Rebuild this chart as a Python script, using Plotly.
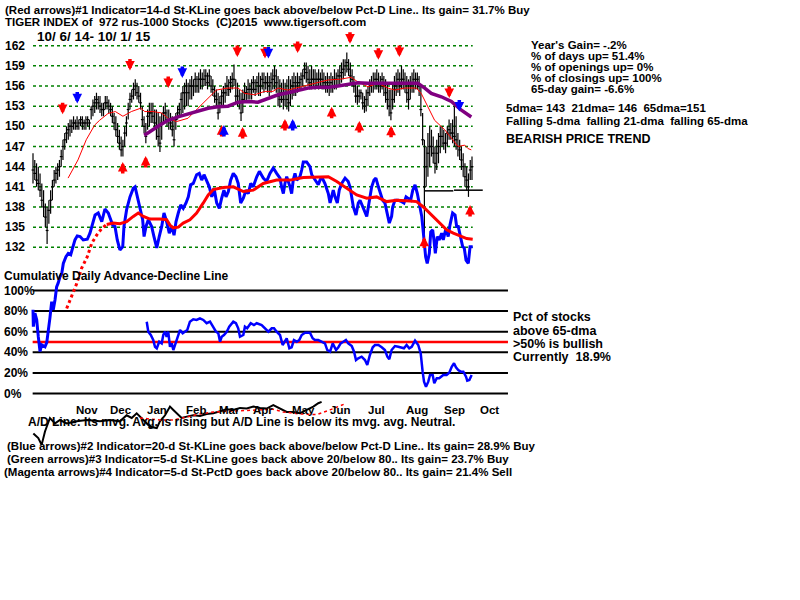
import plotly.graph_objects as go

# ---------------- data (trading-day index 0 = 10/6/14 ... 249 = 10/1/15) ----------------
highs = [
    146.0,145.0,144.5,144.0,143.0,141.5,140.5,138.5,138.0,139.0,
    140.5,142.0,143.5,144.0,144.5,145.0,146.5,148.0,149.0,150.0,
    150.5,151.0,151.0,151.5,151.0,151.5,151.0,151.5,151.5,151.0,
    151.5,151.5,151.0,153.0,154.0,154.5,155.0,154.5,154.5,153.5,
    153.5,154.5,154.5,154.0,153.5,153.0,152.0,151.5,150.5,149.5,
    148.5,148.0,150.0,151.5,153.5,155.0,155.5,156.5,157.0,156.5,
    156.0,155.0,153.0,151.5,150.5,152.5,153.5,153.5,153.5,152.5,
    152.5,152.0,151.5,152.0,153.0,153.5,152.5,152.5,152.0,151.5,
    151.0,152.0,153.0,153.5,155.0,156.0,156.5,157.0,156.5,157.0,
    157.5,157.0,158.0,157.5,158.0,158.5,158.0,158.5,158.5,158.0,
    158.5,157.5,157.0,156.0,155.5,155.0,154.5,155.5,156.0,156.5,
    157.5,157.0,157.5,158.0,159.2,157.0,156.5,155.5,155.0,155.5,
    156.5,156.0,157.0,156.5,157.0,157.5,157.0,157.5,158.0,157.5,
    158.0,158.0,157.5,158.0,157.5,158.0,158.5,159.0,158.5,157.5,
    157.0,156.5,157.0,156.5,157.0,157.5,157.0,157.5,158.0,157.5,
    158.0,157.5,158.0,158.5,159.5,159.5,159.0,158.5,159.0,158.5,
    158.5,158.0,158.5,158.0,158.5,158.0,157.5,158.0,157.5,158.0,
    157.5,158.5,158.0,158.5,159.0,159.5,160.0,160.0,161.0,160.0,
    159.5,158.5,157.5,156.5,156.0,155.5,155.5,155.0,154.5,155.5,
    156.0,157.0,157.5,158.0,158.0,158.5,158.0,157.5,158.0,157.5,
    157.0,156.5,155.5,155.5,156.5,157.5,158.0,158.5,158.0,159.0,
    158.5,158.0,157.5,157.0,157.5,158.0,158.5,158.0,158.0,157.5,
    156.0,152.0,148.0,147.0,149.0,150.0,149.5,148.5,147.0,148.0,
    149.0,150.0,150.0,149.5,149.0,150.0,151.0,150.5,151.0,153.0,
    151.5,149.0,148.0,147.0,146.0,144.5,144.0,143.0,145.0,145.5,
]
lows = [
    141.5,142.0,141.0,140.5,139.5,138.0,136.5,135.0,132.5,135.5,
    137.0,139.0,141.0,141.5,142.0,142.5,144.0,145.0,146.5,147.5,
    148.0,148.5,149.0,149.5,149.5,149.5,149.5,150.0,149.5,149.5,
    149.5,150.0,149.5,151.0,151.5,152.0,152.5,152.5,152.0,151.5,
    151.5,152.5,152.5,152.0,151.5,150.5,149.5,148.5,147.5,146.5,
    145.5,145.5,147.0,148.5,151.0,152.5,153.5,154.0,154.5,154.0,
    153.5,152.5,150.0,149.0,147.5,149.5,150.0,150.5,150.5,149.5,
    148.0,147.0,146.2,148.0,150.5,150.5,150.0,149.5,149.5,148.5,
    147.0,149.5,151.0,151.5,151.5,152.0,152.5,153.0,153.0,154.0,
    154.0,154.5,155.0,155.0,155.0,155.5,155.5,156.0,156.0,155.5,
    156.0,155.0,154.5,153.5,153.0,151.0,152.0,153.0,153.0,153.5,
    154.5,154.5,155.0,155.5,156.0,153.5,153.0,152.5,150.8,152.0,
    153.5,153.5,154.0,154.0,154.0,155.0,154.5,155.0,154.5,154.5,
    155.5,155.0,155.5,155.0,154.5,155.0,155.5,155.5,155.0,153.0,
    152.8,153.5,152.5,153.0,152.5,152.2,153.0,154.0,154.5,154.5,
    155.0,155.5,155.5,156.0,157.0,156.5,156.0,155.5,155.5,156.0,
    155.5,156.0,155.5,156.0,155.5,155.5,155.0,155.0,154.5,155.0,
    155.0,155.5,155.5,156.0,156.0,156.5,157.0,157.5,158.0,157.5,
    156.5,156.0,155.0,153.5,153.2,153.5,154.0,152.5,152.0,152.2,
    153.0,154.5,155.0,155.0,155.5,155.5,155.0,155.0,155.5,154.5,
    153.5,152.5,151.5,150.9,152.5,153.5,154.5,155.0,154.5,155.5,
    155.5,155.0,153.5,152.5,154.0,155.0,155.0,155.5,155.5,154.5,
    151.5,147.2,133.0,141.0,142.5,144.0,145.5,144.5,143.0,143.5,
    144.5,146.0,147.0,146.5,146.0,147.0,148.0,148.0,147.5,147.0,
    146.5,145.5,145.0,143.5,142.5,141.0,140.5,139.5,142.0,142.0,
]
closes = [
    143.5,143.0,142.0,141.5,140.5,139.0,138.0,136.5,134.5,137.5,
    139.0,141.0,142.0,143.0,143.5,144.0,145.5,147.0,148.0,149.0,
    149.5,150.0,150.0,150.5,150.5,150.0,150.5,151.0,150.5,150.5,
    150.5,151.0,150.5,152.5,153.0,153.5,154.0,153.5,153.0,152.5,
    152.5,153.5,153.5,153.0,152.5,151.5,150.5,149.5,148.5,147.5,
    146.5,147.0,149.0,150.5,152.5,154.0,154.5,155.5,156.0,155.0,
    154.5,153.5,151.0,150.0,148.5,151.5,152.0,152.0,151.5,150.5,
    150.0,148.5,147.5,150.5,152.0,152.0,151.0,151.0,150.5,149.5,
    148.0,151.0,152.0,152.5,154.0,155.0,155.0,156.0,155.0,156.0,
    156.0,156.0,157.0,156.0,157.0,157.0,157.0,157.0,157.5,156.5,
    157.5,156.0,155.5,154.5,154.0,152.0,153.5,154.5,155.0,155.0,
    156.0,155.5,156.5,157.0,157.0,154.5,154.5,153.5,152.0,154.0,
    155.0,155.0,155.5,155.5,155.5,156.5,155.5,156.5,156.0,156.0,
    157.0,156.5,156.5,156.5,156.0,156.5,157.0,157.5,156.5,154.5,
    154.0,155.0,154.0,155.0,154.0,153.5,155.0,156.0,156.5,156.0,
    156.5,156.5,157.0,157.5,158.5,158.0,157.0,156.5,157.0,157.0,
    157.0,157.0,157.0,157.0,157.0,156.5,156.0,156.5,156.0,156.5,
    156.0,157.0,157.0,157.5,157.5,158.0,158.5,159.0,159.5,158.5,
    157.5,157.0,156.0,154.5,154.5,154.5,155.0,153.5,153.0,154.0,
    155.0,156.0,156.5,156.5,157.0,157.0,156.5,156.0,157.0,156.0,
    155.0,154.0,153.0,152.0,154.0,155.5,156.0,157.0,156.0,157.0,
    157.0,156.5,155.0,154.0,156.0,156.5,157.0,156.5,157.0,156.0,
    152.5,148.0,141.0,144.0,146.0,147.0,147.0,146.0,144.5,146.0,
    147.0,148.5,148.5,147.5,147.5,149.0,149.5,149.0,149.0,148.5,
    148.0,147.0,146.5,145.0,144.0,142.5,142.0,141.0,143.5,144.0,
]

dma21_day = [19.9,25.5,30.2,35.0,37.8,42.5,46.7,51.0,55.8,61.1,63.4,68.1,72.8,76.6,81.3,87.9,93.6,99.3,
             104.0,110.6,116.3,120.1,125.7,131.4,136.1,139.0,144.6,152.2,159.8,167.3,174.0,180.5,184.3,
             190.0,195.7,201.3,205.2,210.8,217.4,220.2,224.0,227.8,233.5,237.3,241.1,244.9,246.7,248.6]
dma21_val = [142.3,145.0,148.0,150.2,150.9,151.9,152.2,151.5,152.2,152.7,152.2,152.2,152.0,151.2,150.7,151.2,
             152.7,154.2,155.4,155.7,155.7,154.9,154.7,155.2,155.2,155.7,155.4,155.9,156.4,156.9,157.0,157.3,
             156.6,155.9,156.4,155.7,155.4,155.7,155.7,154.9,152.9,150.9,149.5,148.2,147.0,147.2,146.7,146.5]

dma65_day = [63.0,65.2,70.9,76.6,82.2,87.9,93.6,99.3,104.9,110.6,116.3,122.0,127.6,133.3,139.0,144.6,150.3,
             156.0,161.7,167.3,173.0,178.7,184.3,190.0,201.3,218.3,222.2,225.9,231.6,237.3,243.0,248.6]
dma65_val = [148.7,149.0,150.0,150.9,151.4,151.8,152.3,152.7,152.9,153.0,153.6,153.7,153.6,154.2,154.7,155.0,
             155.4,155.7,155.8,155.8,156.0,156.3,156.5,156.4,156.4,156.4,155.7,154.9,154.4,153.7,152.4,151.4]

# cumulative A/D line (read against the price grid)
ad_day = [0.0,0.2,1.1,2.1,3.0,4.0,4.9,6.8,7.8,8.7,9.6,10.6,11.5,12.5,13.4,14.3,15.3,16.3,17.2,18.7,20.0,21.4,
          22.5,23.8,25.1,26.7,28.5,30.8,32.3,33.9,35.2,37.0,39.0,40.8,42.7,44.1,45.2,46.5,47.8,49.3,50.9,51.6,
          53.1,55.0,56.9,57.9,59.2,60.7,62.2,63.0,64.1,65.4,67.3,68.6,70.2,71.6,73.0,74.3,75.8,77.3,78.7,80.0,
          81.1,82.4,83.8,85.2,86.8,88.1,89.4,90.9,92.8,94.3,95.7,97.0,98.5,100.0,101.4,102.7,104.2,105.7,107.0,
          108.3,109.5,110.8,112.1,113.6,115.1,116.4,117.8,119.3,120.8,122.1,123.5,124.9,126.9,128.4,130.6,132.5,
          134.4,136.3,138.2,140.1,141.0,142.0,142.9,143.9,145.8,146.7,147.6,148.6,149.6,151.4,152.4,153.3,155.2,
          157.1,158.1,159.9,161.8,162.8,163.7,165.6,167.5,168.5,169.4,170.3,171.3,172.6,173.7,175.1,177.0,178.8,
          179.8,180.8,181.7,183.2,184.5,185.5,187.0,188.3,189.3,190.2,191.1,192.1,193.4,194.5,195.9,197.2,198.3,
          199.6,201.0,202.1,203.4,204.0,205.3,207.2,209.1,210.4,211.6,212.9,214.2,215.4,216.7,218.0,219.1,220.5,
          221.8,222.7,223.6,224.8,225.6,226.7,227.4,228.2,229.3,230.4,231.8,232.7,234.2,235.5,236.5,238.0,239.4,
          240.3,241.2,242.6,243.7,244.6,245.6,246.9,247.9,249.4]
ad_val = [122.7,120.2,122.2,121.2,118.7,116.5,117.5,117.2,117.8,119.4,121.5,123.9,122.7,124.2,126.1,126.7,127.6,
          128.1,129.6,130.6,131.1,130.9,132.1,133.1,133.7,133.6,133.1,133.2,134.1,135.8,136.8,137.1,135.8,137.7,
          137.1,136.1,135.3,135.1,133.1,131.6,132.1,135.1,137.6,139.5,140.8,141.0,139.5,137.6,136.1,133.6,135.1,
          136.1,135.1,133.6,131.9,133.6,135.1,137.1,135.8,134.1,135.1,133.8,135.8,137.1,138.3,137.8,138.6,139.5,
          141.3,141.5,142.8,143.0,142.0,142.8,142.0,141.0,139.5,140.8,138.6,137.8,139.3,140.5,139.5,140.3,142.0,
          143.0,142.5,141.5,138.6,139.3,140.5,140.0,141.5,141.0,142.5,143.3,142.3,141.8,143.0,143.8,143.0,142.3,
          141.0,140.0,141.5,142.5,141.0,140.0,142.0,143.0,142.0,142.5,143.5,144.7,144.7,144.0,142.8,142.0,141.3,
          142.0,142.5,141.5,140.0,138.6,139.5,140.5,139.5,138.6,140.5,141.5,142.3,141.8,141.0,139.5,138.0,136.8,
          138.6,139.0,138.0,137.1,136.6,138.0,139.5,141.0,142.0,142.3,141.0,140.0,139.0,138.6,137.1,135.6,136.6,
          138.0,139.0,139.0,138.8,138.6,139.5,139.3,139.0,140.5,141.3,140.0,138.6,136.6,133.1,130.6,129.6,131.1,
          134.3,134.6,133.1,131.1,133.6,133.1,134.1,133.1,134.8,133.6,135.3,137.1,136.8,135.1,135.1,133.6,132.1,
          131.9,130.1,129.6,132.1,132.1]

# moving average of the A/D line
adma_day = [19.1,21.9,24.8,27.6,30.8,33.3,36.1,39.0,41.8,45.5,49.3,53.1,56.9,59.7,62.6,66.4,72.0,75.8,77.7,79.6,
            82.4,85.2,89.0,92.8,96.6,99.4,102.3,107.9,113.6,116.4,119.3,124.9,130.6,138.2,145.8,153.3,160.9,167.5,
            172.3,177.9,183.6,189.3,194.9,200.6,206.3,213.8,217.6,221.4,226.1,230.8,234.6,238.4,242.2,246.0,249.4]
adma_val = [122.9,124.7,126.6,128.9,130.6,132.6,133.8,134.8,135.4,135.6,135.5,135.8,136.6,137.1,136.6,136.2,136.2,
            136.1,135.3,134.9,135.0,135.6,136.1,137.1,138.6,139.8,140.6,140.9,141.0,140.6,140.3,140.5,141.5,142.0,
            142.0,142.4,142.5,142.5,141.8,140.8,139.8,139.3,139.5,138.8,139.0,138.9,138.8,138.0,136.8,135.6,134.6,
            134.1,133.7,133.3,133.2]

# second A/D trace drawn under the percent panel, and its average
ad2_day = [0.2,3.0,4.9,6.8,9.6,12.5,15.3,19.1,24.8,30.5,38.0,43.7,49.3,53.1,56.0,58.8,62.6,66.4,70.2,72.0,74.9,
           77.7,79.6,81.5,84.3,87.2,90.9,94.7,98.5,102.3,106.1,109.9,113.6,117.4,121.2,125.0,128.8,132.5,136.3,
           140.1,143.9,147.6,151.4,155.2,159.0,161.8,163.7]
ad2_val = [104.3,103.6,102.6,104.6,106.6,105.8,106.3,105.8,106.1,106.3,106.1,106.3,106.1,107.0,106.6,107.3,106.3,
           105.3,105.1,106.1,107.0,108.3,107.8,107.3,106.6,106.8,107.0,106.9,107.2,107.3,107.6,107.9,107.8,108.1,
           108.0,108.3,108.1,108.0,108.5,108.0,107.5,107.5,107.3,107.8,108.3,108.8,109.0]
ad2ma_day = [60.7,72.0,79.6,87.2,94.7,102.3,113.6,125.0,136.3,141.8,151.4,160.9,168.5,176.9]
ad2ma_val = [106.6,106.3,106.3,106.8,107.2,107.5,107.6,107.8,107.9,107.5,107.2,107.1,107.8,108.7]

# percent of stocks above 65-dma
pct_day = [64.5,65.4,66.8,68.2,69.2,70.2,71.6,73.0,73.9,74.9,75.8,76.7,77.7,78.7,79.6,80.5,81.5,82.4,83.4,84.9,
           86.2,87.5,89.0,90.9,92.8,94.7,96.6,98.5,100.4,102.3,103.8,105.1,106.1,107.0,108.3,109.9,111.3,113.6,
           115.1,116.4,117.4,119.3,120.2,121.5,123.5,125.3,126.9,129.7,131.6,133.5,135.4,136.7,138.2,140.1,141.6,
           142.9,143.9,145.4,146.7,148.0,149.6,151.0,152.4,154.3,157.1,158.6,159.9,161.8,163.7,165.6,166.9,168.5,
           170.0,171.9,173.2,174.5,176.0,177.5,178.8,180.8,182.1,183.2,184.5,186.4,188.3,189.6,191.1,192.7,194.0,
           195.9,197.8,199.6,201.0,202.1,203.4,205.3,207.2,209.1,210.4,211.9,213.4,214.8,216.7,218.5,219.9,221.0,
           221.8,222.9,224.2,225.2,226.7,227.6,229.0,230.4,231.8,232.7,234.6,236.1,237.5,238.8,239.9,241.2,242.6,
           244.1,245.6,246.3,247.5,248.8]
pct_val = [69.7,60.0,56.8,51.9,45.4,43.9,50.3,48.7,56.8,60.0,55.1,60.0,45.4,48.7,42.2,47.1,51.9,58.4,61.7,58.4,
           60.0,61.7,69.7,72.0,71.4,73.0,71.4,68.2,69.7,64.9,60.0,58.4,50.3,55.1,56.8,60.0,64.9,69.7,68.2,63.3,
           55.1,56.8,64.9,63.3,68.2,66.5,68.2,66.5,63.3,60.0,63.3,63.3,60.0,56.8,47.1,50.3,53.6,43.9,44.9,51.9,
           50.3,51.9,56.8,59.0,59.0,53.6,51.9,51.9,50.3,48.7,42.2,40.6,48.7,42.2,44.9,48.7,50.3,51.9,48.7,46.1,
           40.6,32.5,34.2,35.7,32.5,27.7,37.4,44.9,47.1,47.1,44.9,42.2,35.7,33.2,42.2,46.1,45.4,44.9,43.9,47.1,
           43.9,45.4,51.3,47.1,39.0,21.2,11.5,6.6,11.5,18.0,18.0,9.9,14.8,14.8,16.3,18.0,18.0,20.2,26.0,29.3,
           25.4,22.8,21.2,21.2,16.3,12.4,13.1,18.0]

# signal arrows: day index and price at the arrow tip
red_down_day = [16.8,55.0,76.7,115.9,131.6,150.1,179.8,195.9,207.8,236.1]
red_down_val = [151.8,158.3,155.7,160.3,160.1,160.9,162.3,159.9,160.3,154.2]
blue_down_day = [25.1,84.7,133.5,241.8]
blue_down_val = [153.4,157.2,160.1,152.2]
red_up_day = [50.9,63.9,107.0,118.9,142.9,169.4,185.1,203.1,221.9,247.9]
red_up_val = [144.7,145.6,150.2,149.9,151.1,152.9,150.8,150.1,133.6,138.3]
blue_up_day = [108.3,147.3]
blue_up_val = [150.2,151.1]

support_day = [221.8,238.4,None,238.8,255.1]
support_val = [140.4,140.4,None,140.5,140.5]

price_ticks = [162,159,156,153,150,147,144,141,138,135,132]
pct_ticks = [100,80,60,40,20,0]
month_names = ["Nov","Dec","Jan","Feb","Mar","Apr","May","Jun","Jul","Aug","Sep","Oct"]
month_days = [30.6,49.9,70.3,92.4,111.3,130.5,153.2,174.2,194.6,217.8,238.8,259.2]

# ---------------- figure ----------------
W, H = 800, 600
FONT = "Liberation Sans"
NB = "\u00a0"
fig = go.Figure()

bx, by, cx, cy = [], [], [], []
for i, (h, l, c) in enumerate(zip(highs, lows, closes)):
    bx += [i, i, None]
    by += [l, h, None]
    cx += [i - 0.8, i + 0.8, None]
    cy += [c, c, None]

fig.add_trace(go.Scatter(x=ad2_day, y=ad2_val, yaxis="y3", mode="lines",
                         line=dict(color="black", width=2), hoverinfo="skip"))
fig.add_trace(go.Scatter(x=ad2ma_day, y=ad2ma_val, yaxis="y3", mode="lines",
                         line=dict(color="red", width=1.5, dash="dot"), hoverinfo="skip"))
fig.add_trace(go.Scatter(x=ad_day, y=ad_val, yaxis="y3", mode="lines",
                         line=dict(color="#0000ff", width=3), hoverinfo="skip"))
fig.add_trace(go.Scatter(x=adma_day[:9], y=adma_val[:9], yaxis="y3", mode="lines",
                         line=dict(color="red", width=3, dash="dot"), hoverinfo="skip"))
fig.add_trace(go.Scatter(x=adma_day[8:], y=adma_val[8:], yaxis="y3", mode="lines",
                         line=dict(color="red", width=3), hoverinfo="skip"))
fig.add_trace(go.Scatter(x=bx, y=by, mode="lines", line=dict(color="black", width=1.2), hoverinfo="skip"))
fig.add_trace(go.Scatter(x=cx, y=cy, mode="lines", line=dict(color="black", width=1.2), hoverinfo="skip"))
fig.add_trace(go.Scatter(x=dma21_day, y=dma21_val, mode="lines", line=dict(color="red", width=1), hoverinfo="skip"))
fig.add_trace(go.Scatter(x=dma65_day, y=dma65_val, mode="lines", line=dict(color="#800080", width=3.5), hoverinfo="skip"))
fig.add_trace(go.Scatter(x=support_day, y=support_val, mode="lines", line=dict(color="black", width=1.5), hoverinfo="skip"))
fig.add_trace(go.Scatter(x=pct_day, y=pct_val, yaxis="y2", mode="lines",
                         line=dict(color="#0000ff", width=2.5), hoverinfo="skip"))

shapes = []
for t in price_ticks:
    shapes.append(dict(type="line", xref="x", yref="y", x0=0, x1=249.4, y0=t, y1=t, layer="below",
                       line=dict(color="#008000", width=1.5, dash="dot")))
for t in pct_ticks:
    shapes.append(dict(type="line", xref="x", yref="y2", x0=-0.2, x1=269.4, y0=t, y1=t, layer="below",
                       line=dict(color="black", width=2)))
shapes.append(dict(type="line", xref="x", yref="y2", x0=-0.2, x1=269.4, y0=50, y1=50, layer="below",
                   line=dict(color="red", width=2.5)))

ann = []
def txt(s, px, py, size=12, anchor="left"):
    ann.append(dict(text=s.replace("  ", NB + NB), x=px / W, y=1 - py / H, xref="paper", yref="paper",
                    xanchor=anchor, yanchor="middle", showarrow=False,
                    font=dict(family=FONT, size=size, color="black", weight="bold")))

def arrow(d, v, color, down):
    ann.append(dict(x=d, y=v, xref="x", yref="y", ax=0, ay=(-13 if down else 13), text="",
                    showarrow=True, arrowhead=2, arrowsize=0.55, arrowwidth=3.5, arrowcolor=color,
                    standoff=0, startstandoff=0))

for t in price_ticks:
    ann.append(dict(text=str(t), x=27 / W, y=t, xref="paper", yref="y", xanchor="right", yanchor="middle",
                    showarrow=False, font=dict(family=FONT, size=12, color="black", weight="bold")))
for t in pct_ticks:
    ann.append(dict(text=f"{t}%", x=2 / W, y=t, xref="paper", yref="y2", xanchor="left", yanchor="middle",
                    showarrow=False, font=dict(family=FONT, size=12, color="black", weight="bold")))
for m, d in zip(month_names, month_days):
    ann.append(dict(text=m, x=d, y=1 - 410 / H, xref="x", yref="paper", xanchor="center", yanchor="middle",
                    showarrow=False, font=dict(family=FONT, size=11.5, color="black", weight="bold")))

for d, v in zip(red_down_day, red_down_val):
    arrow(d, v, "red", True)
for d, v in zip(blue_down_day, blue_down_val):
    arrow(d, v, "#0000ff", True)
for d, v in zip(red_up_day, red_up_val):
    arrow(d, v, "red", False)
for d, v in zip(blue_up_day, blue_up_val):
    arrow(d, v, "#0000ff", False)

txt("(Red arrows)#1 Indicator=14-d St-KLine goes back above/below Pct-D Line.. Its gain= 31.7% Buy", 3, 9.5, 11.5)
txt("TIGER INDEX of  972 rus-1000 Stocks  (C)2015  www.tigersoft.com", 3, 22.5, 11.5)
txt("10/ 6/ 14- 10/ 1/ 15", 35, 36, 13.5)
txt("Year's Gain= -.2%", 529, 45, 11.5)
txt("% of days up= 51.4%", 529, 56, 11.5)
txt("% of openings up= 0%", 529, 67, 11.5)
txt("% of closings up= 100%", 529, 78, 11.5)
txt("65-day gain= -6.6%", 529, 89, 11.5)
txt("5dma= 143  21dma= 146  65dma=151", 504, 108, 11.5)
txt("Falling 5-dma  falling 21-dma  falling 65-dma", 504, 121, 11.5)
txt("BEARISH PRICE TREND", 504, 139, 12.5)
txt("Cumulative Daily Advance-Decline Line", 2, 276, 12)
txt("Pct of stocks", 511, 317, 12.5)
txt("above 65-dma", 511, 331, 12.5)
txt(">50% is bullish", 511, 344, 12.5)
txt("Currently  18.9%", 511, 357, 12.5)
txt("A/D Line: Its mvg. Avg. is rising but A/D Line is below its mvg. avg. Neutral.", 26, 422, 12)
txt("(Blue arrows)#2 Indicator=20-d St-KLine goes back above/below Pct-D Line.. Its gain= 28.9% Buy", 5, 446, 11.5)
txt("(Green arrows)#3 Indicator=5-d St-KLine goes back above 20/below 80.. Its gain= 23.7% Buy", 5, 459, 11.5)
txt("(Magenta arrows)#4 Indicator=5-d St-PctD goes back above 20/below 80.. Its gain= 21.4% Sell", 2, 472, 11.5)

px_per_day = 439 / 249
x0 = -33 / px_per_day
x1 = x0 + W / px_per_day
py_unit = 201.6 / 30
y1 = 162 + 45.7 / py_unit
y0 = y1 - H / py_unit
pp_unit = 1.03
p1 = 100 + 290.5 / pp_unit
p0 = p1 - H / pp_unit

fig.update_layout(
    width=W, height=H, margin=dict(l=0, r=0, t=0, b=0), autosize=False,
    paper_bgcolor="white", plot_bgcolor="white", showlegend=False,
    xaxis=dict(range=[x0, x1], visible=False, fixedrange=True),
    yaxis=dict(range=[y0, y1], visible=False, fixedrange=True),
    yaxis2=dict(range=[p0, p1], visible=False, overlaying="y", fixedrange=True),
    yaxis3=dict(range=[y0, y1], visible=False, overlaying="y", fixedrange=True),
    shapes=shapes, annotations=ann,
)

fig.write_html("out.html", config={"displayModeBar": False},
               post_script="document.body.style.margin='0';")
